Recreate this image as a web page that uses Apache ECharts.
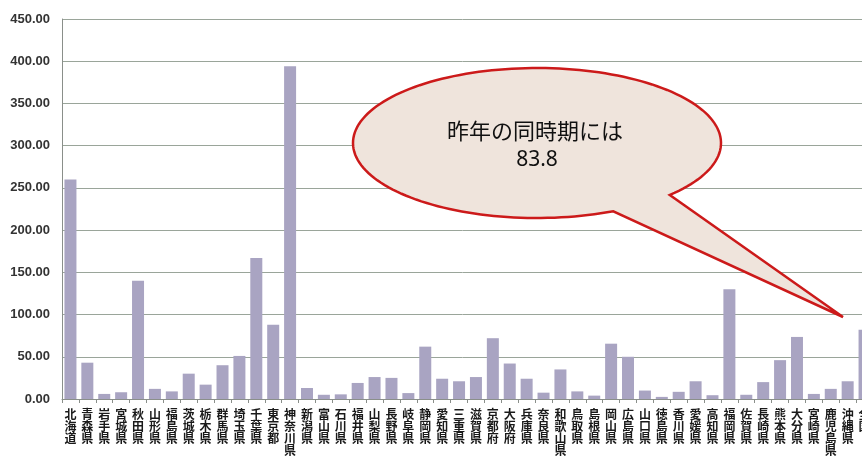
<!DOCTYPE html>
<html>
<head>
<meta charset="utf-8">
<script src="https://cdn.jsdelivr.net/npm/echarts@6/dist/echarts.min.js"></script>
<style>
html,body{margin:0;padding:0;background:#fff;}
#c{width:862px;height:464px;}
</style>
</head>
<body>
<div id="c"></div>
<script>
var categories = ['北海道','青森県','岩手県','宮城県','秋田県','山形県','福島県','茨城県','栃木県','群馬県','埼玉県','千葉県','東京都','神奈川県','新潟県','富山県','石川県','福井県','山梨県','長野県','岐阜県','静岡県','愛知県','三重県','滋賀県','京都府','大阪府','兵庫県','奈良県','和歌山県','鳥取県','島根県','岡山県','広島県','山口県','徳島県','香川県','愛媛県','高知県','福岡県','佐賀県','長崎県','熊本県','大分県','宮崎県','鹿児島県','沖縄県','全国'];
var values = [260, 43, 6, 8, 140, 12, 9, 30, 17, 40, 51, 167, 88, 394, 13, 5, 5.5, 19, 26, 25, 7, 62, 24, 21, 26, 72, 42, 24, 7.5, 35, 9, 4, 65.5, 50, 10, 2.5, 8.5, 21, 4.5, 130, 5, 20, 46, 73.5, 6, 12, 21, 82];
var yTicks = {min: 0, max: 450, interval: 50};
var calloutLines = ['昨年の同時期には', '83.8'];

var chart = echarts.init(document.getElementById('c'), null, {renderer: 'canvas'});

// speech bubble outline (ellipse + tail) as a polygon
var cx = 537, cy = 143, rx = 184, ry = 75;
var tipX = 843, tipY = 317;
var a1 = Math.atan2((211 - cy) / ry, (613 - cx) / rx); // lower tail base
var a2 = Math.atan2((195 - cy) / ry, (670 - cx) / rx); // upper tail base
var pts = [[tipX, tipY]];
var N = 160;
var span = 2 * Math.PI - (a1 - a2);
for (var i = 0; i <= N; i++) {
  var a = a2 - span * i / N;
  pts.push([cx + rx * Math.cos(a), cy + ry * Math.sin(a)]);
}

var option = {
  animation: false,
  backgroundColor: '#ffffff',
  grid: {left: 62, top: 19, width: 811, bottom: 65, outerBoundsMode: 'none', containLabel: false},
  xAxis: {
    type: 'category',
    data: categories,
    axisLine: {lineStyle: {color: '#8a8f8a', width: 1}},
    axisTick: {show: true, length: 4, lineStyle: {color: '#8a8f8a'}},
    axisLabel: {
      interval: 0,
      color: '#1a1a1a',
      fontSize: 12,
      fontWeight: 'bold',
      fontFamily: '"Noto Sans CJK JP", sans-serif',
      lineHeight: 12,
      margin: 9,
      formatter: function (v) { return v.split('').join('\n'); }
    }
  },
  yAxis: {
    type: 'value',
    min: yTicks.min, max: yTicks.max, interval: yTicks.interval,
    axisLine: {show: true, lineStyle: {color: '#8a8f8a'}},
    axisTick: {show: false},
    splitLine: {lineStyle: {color: '#9aa59a', width: 1}},
    axisLabel: {
      color: '#333',
      fontSize: 13,
      fontWeight: 'bold',
      fontFamily: '"Liberation Sans", Arial, sans-serif',
      margin: 12,
      formatter: function (v) { return v.toFixed(2); }
    }
  },
  series: [{
    type: 'bar',
    data: values,
    barWidth: 12,
    itemStyle: {color: '#a9a4c2'},
    silent: true
  }],
  graphic: [
    {
      type: 'polygon',
      shape: {points: pts},
      style: {fill: '#efe4dc', stroke: '#cc1a1a', lineWidth: 2.5},
      z: 100
    },
    {
      type: 'text',
      x: 535, y: 131,
      style: {text: calloutLines[0], fill: '#111', font: '22px "Noto Sans CJK JP", sans-serif', align: 'center', verticalAlign: 'middle'},
      z: 101
    },
    {
      type: 'text',
      x: 537, y: 160,
      style: {text: calloutLines[1], fill: '#111', font: '21px "Noto Sans", "Liberation Sans", sans-serif', align: 'center', verticalAlign: 'middle'},
      z: 101
    }
  ]
};
chart.setOption(option);
</script>
</body>
</html>
